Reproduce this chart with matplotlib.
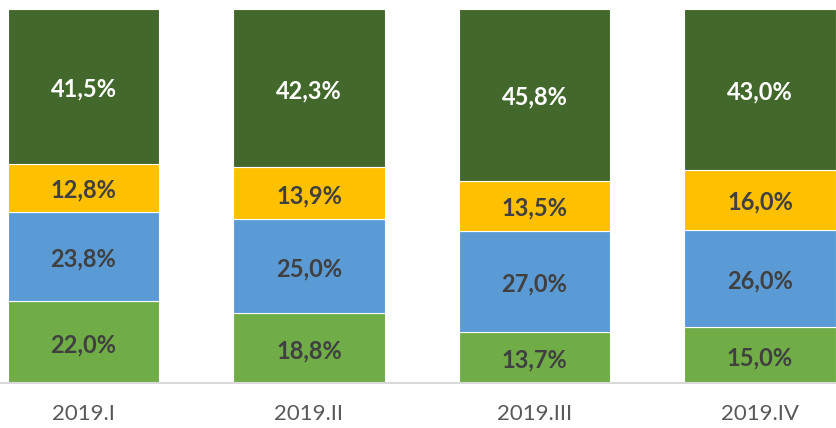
import matplotlib
matplotlib.use("Agg")
from matplotlib import pyplot as plt
import numpy as np

plt.rcParams['font.family'] = ['Lato', 'DejaVu Sans']

categories = ["2019.I", "2019.II", "2019.III", "2019.IV"]
seg1 = [22.0, 18.8, 13.7, 15.0]
seg2 = [23.8, 25.0, 27.0, 26.0]
seg3 = [12.8, 13.9, 13.5, 16.0]
seg4 = [41.5, 42.3, 45.8, 43.0]

series = [seg1, seg2, seg3, seg4]
colors = ["#70AD47", "#5B9BD5", "#FFC000", "#43682B"]
text_colors = ["#404040", "#404040", "#404040", "#FFFFFF"]

fig = plt.figure(figsize=(8.36, 4.28), dpi=100)
ax = fig.add_axes([0, 0.104, 1, 0.875])

x = np.arange(len(categories))
bottom = np.zeros(len(categories))
for vals, col, tcol in zip(series, colors, text_colors):
    vals = np.array(vals)
    ax.bar(x, vals, width=0.67, bottom=bottom, color=col, edgecolor="white", linewidth=0.8)
    for xi, b, v in zip(x, bottom, vals):
        ax.text(xi, b + v / 2 - 0.6, f"{v:.1f}%".replace(".", ","), ha="center", va="center",
                color=tcol, fontsize=17, fontweight="bold")
    bottom += vals

ax.set_xlim(-0.370, 3.337)
ax.set_ylim(0, 100)
for s in ["top", "right", "left"]:
    ax.spines[s].set_visible(False)
ax.spines["bottom"].set_color("#D9D9D9")
ax.spines["bottom"].set_linewidth(1.5)
ax.set_yticks([])
ax.set_xticks(x)
ax.set_xticklabels(categories, fontsize=16, color="#595959")
ax.tick_params(axis="x", length=0, pad=15)

fig.savefig("out.png", dpi=100)
